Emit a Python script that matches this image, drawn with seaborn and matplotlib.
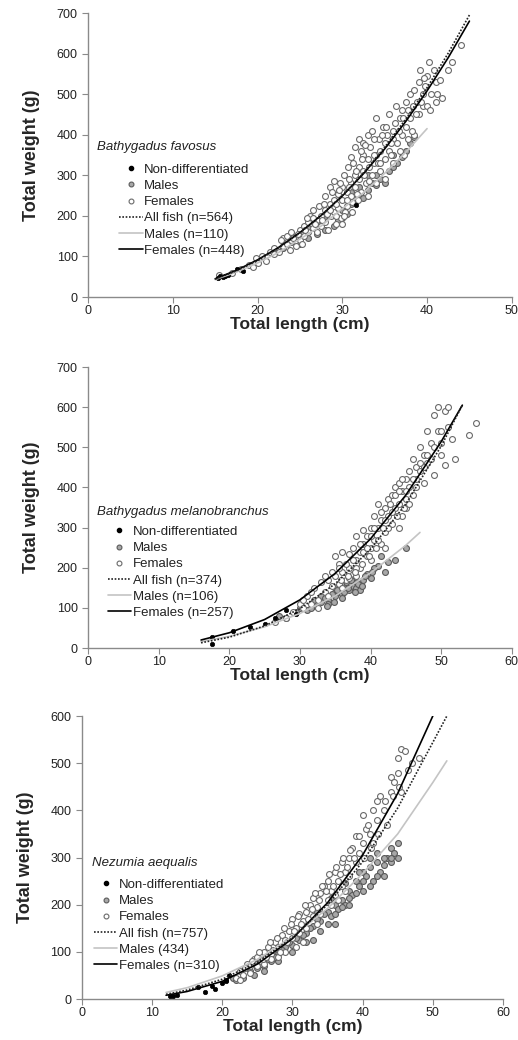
import numpy as np
import pandas as pd
import seaborn as sns
import matplotlib
matplotlib.use("Agg")
import matplotlib.pyplot as plt
from matplotlib.lines import Line2D

sns.set_style("ticks")
plt.rcParams['font.family'] = ['Liberation Sans', 'DejaVu Sans']

# ---------------- Bathygadus favosus ----------------
fav_nd_len = [15.3, 15.6, 15.9, 16.2, 16.5, 17.6, 18.3, 31.6]
fav_nd_wt = [48, 52, 50, 53, 55, 68, 64, 226]
fav_m_len = [25, 26, 27, 28, 29, 29.5, 30, 30.5, 31, 31.5, 32, 32.5, 33, 33.5, 34, 34.5, 35, 35.5,
             36, 36.5, 37, 37.5, 38, 38.5, 33, 32, 30, 28, 27, 26, 24, 23, 31, 34, 36]
fav_m_wt = [130, 145, 155, 165, 175, 190, 195, 205, 230, 240, 250, 245, 265, 280, 275, 290, 280, 310,
            320, 330, 345, 360, 380, 395, 300, 270, 215, 200, 180, 170, 135, 120, 260, 300, 350]
fav_f_len = [15.5, 17, 18, 19, 19.5, 19.8, 20, 20.5, 21, 21.5, 22, 22, 22.5, 23, 23, 23.5, 23.5, 24, 24,
             24.5, 24.5, 25, 25, 25.5, 25.5, 26, 26, 26.2, 26.5, 26.5, 27, 27, 27.2, 27.5, 27.5, 28, 28,
             28, 28.3, 28.5, 28.5, 28.7, 29, 29, 29, 29.3, 29.5, 29.5, 29.8, 30, 30, 30, 30.2, 30.5, 30.5,
             30.7, 31, 31, 31, 31.2, 31.5, 31.5, 31.5, 31.8, 32, 32, 32, 32.2, 32.5, 32.5, 32.5, 32.8, 33,
             33, 33, 33.3, 33.5, 33.5, 33.8, 34, 34, 34, 34.3, 34.5, 34.5, 34.8, 35, 35, 35, 35.3, 35.5,
             35.5, 36, 36, 36, 36.3, 36.5, 36.8, 37, 37, 37.3, 37.5, 37.5, 38, 38, 38.3, 38.5, 38.5, 38.8,
             39, 39, 39.2, 39.5, 39.5, 39.8, 40, 40, 40.2, 40.5, 40.8, 41, 41, 41.5, 43, 44,
             22.8, 23.8, 24.2, 25.2, 25.8, 26.8, 27.8, 28.2, 28.8, 29.2, 29.7, 30.3, 30.8, 31.3, 31.7,
             32.3, 32.7, 33.2, 33.7, 34.2, 34.7, 35.2, 35.7, 36.2, 36.7, 37.2, 37.8, 38.2, 38.7, 39.3,
             39.6, 40.3, 41.2, 41.8, 42.5, 37.8, 33.8, 32.2, 30.8, 29.6, 28.6, 27.6, 26.6, 25.6, 24.8,
             30.2, 31.2, 33.2, 34.5, 35.8, 36.8, 29.3, 30.6, 31.6, 32.6]
fav_f_wt = [55, 60, 70, 80, 75, 95, 85, 100, 90, 110, 105, 120, 110, 125, 145, 130, 150, 140, 160,
            125, 150, 165, 140, 175, 150, 185, 160, 200, 170, 215, 190, 160, 225, 200, 175, 215, 185,
            250, 165, 230, 270, 200, 240, 210, 285, 180, 255, 220, 195, 270, 240, 180, 300, 260, 225,
            320, 280, 250, 345, 210, 300, 270, 370, 240, 320, 290, 390, 260, 350, 310, 380, 280, 340,
            400, 250, 370, 300, 410, 330, 350, 440, 280, 390, 360, 310, 420, 380, 340, 290, 400, 360,
            450, 330, 410, 390, 470, 380, 440, 460, 400, 350, 480, 420, 500, 440, 470, 400, 510, 480,
            530, 450, 560, 500, 470, 520, 545, 470, 580, 500, 560, 480, 530, 535, 580, 620,
            140, 115, 145, 130, 195, 180, 230, 205, 260, 230, 280, 210, 290, 330, 255,
            340, 375, 320, 350, 330, 400, 420, 380, 430, 410, 440, 390, 410, 450, 480,
            540, 460, 500, 490, 560, 460, 390, 360, 270, 265, 215, 190, 195, 165, 155,
            200, 235, 285, 330, 350, 360, 200, 240, 310, 300]
fav_all_len = [15, 17.5, 20, 22.5, 25, 27.5, 30, 32.5, 35, 37.5, 40, 42.5, 45]
fav_all_wt = [44, 64.5, 90, 121, 158, 201, 250, 306, 369, 439, 516, 601, 695]
fav_mfit_len = [15, 17.5, 20, 22.5, 25, 27.5, 30, 32.5, 35, 37.5, 40]
fav_mfit_wt = [43, 61.5, 84, 110, 143, 175, 218, 257, 305, 357, 415]
fav_ffit_len = [15, 17.5, 20, 22.5, 25, 27.5, 30, 32.5, 35, 37.5, 40, 42.5, 45]
fav_ffit_wt = [45, 65.8, 91.6, 122.5, 159, 201, 249, 304, 365, 433, 508, 590, 680]

# ---------------- Bathygadus melanobranchus ----------------
mel_nd_len = [17.5, 17.5, 20.5, 23, 25, 26.5, 28, 29.5]
mel_nd_wt = [28, 10, 42, 52, 60, 75, 95, 85]
mel_m_len = [27, 28, 30, 31, 32, 33, 34, 35, 35.5, 36, 36.5, 37, 37.5, 38, 38.5, 39, 40, 41, 42, 42.5,
             43.5, 45, 34, 36, 37, 38, 35, 33, 32, 39.5, 40.5, 41.5, 37.5, 36.5,
             33.5, 34.5, 35.2, 35.8, 36.2, 36.8, 37.2, 37.8, 38.2, 38.8, 34.8, 33.8, 31.5, 29.5, 39.2, 40.2]
mel_m_wt = [80, 75, 100, 95, 105, 115, 120, 130, 140, 135, 150, 145, 155, 150, 145, 170, 175, 205, 190,
            215, 220, 250, 110, 125, 160, 165, 150, 130, 120, 185, 200, 230, 175, 165,
            125, 135, 145, 160, 140, 150, 170, 140, 160, 155, 115, 105, 100, 90, 180, 190]
mel_f_len = [26.5, 28, 29, 30, 30.5, 31, 31.5, 32, 32.5, 33, 33.5, 34, 34.5, 35, 35, 35.5, 35.5, 36, 36,
             36.5, 37, 37, 37.5, 37.5, 38, 38, 38.5, 38.5, 39, 39, 39.5, 39.5, 40, 40, 40.5, 40.5, 41, 41,
             41.5, 41.5, 42, 42, 42.5, 42.5, 43, 43, 43.5, 43.5, 44, 44, 44.5, 44.5, 45, 45, 45.5, 45.5,
             46, 46, 46.5, 46.5, 47, 47, 47.5, 47.5, 48, 48, 48.5, 49, 49, 49.5, 49.5, 50, 50, 50.5, 50.5,
             51, 51, 51.5, 52, 54, 55, 44, 45, 42, 40, 38, 36, 34,
             33.5, 34.5, 35.5, 36.5, 37, 37.5, 38, 38.5, 39, 39.5, 40, 40.5, 41, 41.5, 42, 42.5, 43,
             43.5, 44, 44.5, 45, 45.5, 46, 46.5, 47, 47.5, 48, 48.5, 49, 50, 44.8, 43.8, 42.8, 41.8,
             40.8, 39.8, 38.8, 37.8, 36.8, 35.8, 31.5, 32.5, 30.5]
mel_f_wt = [65, 75, 90, 110, 100, 130, 110, 150, 120, 165, 140, 170, 155, 230, 180, 210, 160, 190, 240,
            170, 235, 200, 250, 185, 280, 220, 240, 200, 260, 295, 230, 280, 300, 250, 330, 270, 360, 300,
            320, 260, 350, 290, 330, 370, 380, 310, 350, 400, 410, 360, 390, 330, 420, 370, 440, 400,
            470, 380, 450, 420, 500, 440, 480, 410, 540, 460, 510, 430, 580, 540, 600, 510, 480, 455, 590,
            600, 550, 520, 470, 530, 560, 300, 350, 250, 220, 180, 150, 130,
            180, 190, 200, 210, 175, 220, 200, 260, 240, 250, 280, 300, 270, 340, 320, 300, 340,
            380, 390, 420, 390, 360, 420, 400, 460, 450, 480, 470, 500, 540, 350, 330, 360, 300,
            250, 230, 210, 190, 180, 170, 140, 100, 120]
mel_all_len = [16, 20, 25, 30, 35, 40, 45, 50, 53]
mel_all_wt = [13, 27, 55, 98, 160, 246, 359, 503, 605]
mel_mfit_len = [16, 20, 25, 30, 35, 40, 45, 47]
mel_mfit_wt = [16, 29, 53, 86, 130, 187, 256, 288]
mel_ffit_len = [16, 20, 25, 30, 35, 40, 45, 50, 53]
mel_ffit_wt = [20, 38, 71, 120, 186, 272, 381, 514, 605]

# ---------------- Nezumia aequalis ----------------
nez_nd_len = [12.5, 13, 13.5, 16.5, 17.5, 18.5, 19, 20, 20.5, 21, 20.5]
nez_nd_wt = [6, 6, 8, 25, 15, 28, 22, 35, 38, 50, 40]
nez_m_len = [21.5, 22, 23, 24, 25, 26, 27, 28, 29, 30, 31, 32, 33, 34, 35, 35.5, 36, 36.5, 37, 37.5,
             38, 38.5, 39, 39.5, 40, 40.5, 41, 41.5, 42, 42.5, 43, 43.5, 44, 44.5, 45, 45, 44, 43, 30,
             32, 34, 36, 38, 40, 28, 26, 33,
             24.5, 25.5, 26.5, 27.5, 28.5, 29.5, 30.5, 31.5, 32.5, 33.5, 34.5, 35, 36, 37, 38, 39, 40,
             41, 42, 43, 44, 42, 41, 39.5, 37.5, 35.5, 33.5, 31.5]
nez_m_wt = [45, 40, 45, 60, 65, 70, 80, 95, 110, 115, 125, 140, 155, 165, 185, 175, 200, 190, 210, 200,
            230, 220, 250, 240, 270, 260, 280, 250, 290, 270, 285, 300, 320, 310, 330, 300, 290, 260, 100,
            120, 145, 160, 200, 230, 80, 60, 125,
            50, 75, 85, 90, 105, 120, 130, 135, 150, 170, 180, 160, 180, 195, 215, 225, 250,
            240, 260, 300, 300, 310, 300, 270, 245, 215, 185, 160]
nez_f_len = [22, 22.5, 23, 23.5, 24, 24, 24.5, 25, 25, 25.5, 26, 26, 26.5, 27, 27, 27.5, 28, 28, 28.5,
             29, 29, 29.5, 30, 30, 30.5, 31, 31, 31.5, 32, 32, 32.5, 33, 33, 33.5, 34, 34, 34.5, 35, 35,
             35.5, 36, 36, 36.5, 37, 37, 37.5, 38, 38, 38.5, 39, 39, 39.5, 40, 40, 40.5, 41, 41.5, 41.5,
             42, 42, 42.5, 43, 43.5, 44, 44, 44.5, 45, 45, 45.5, 46, 46.5, 47, 48, 45.5,
             22.5, 23.2, 24.2, 25.2, 25.8, 26.2, 26.8, 27.2, 27.8, 28.2, 28.8, 29.2, 29.8, 30.2, 30.8,
             31.2, 31.8, 32.2, 32.8, 33.2, 33.8, 34.2, 34.8, 35.2, 35.8, 36.2, 36.8, 37.2, 37.8, 38.2,
             38.8, 39.5, 40.2, 40.8, 41.2, 42.2, 43.2, 44.3, 45.2, 31.5, 30.5, 33.5, 35.5, 37.5, 36.5]
nez_f_wt = [45, 60, 50, 75, 70, 55, 85, 90, 70, 80, 100, 75, 110, 95, 85, 120, 110, 90, 135, 125, 100,
            145, 170, 130, 150, 180, 140, 165, 185, 150, 200, 175, 215, 195, 225, 180, 240, 210, 250, 230,
            270, 220, 250, 290, 240, 270, 300, 260, 320, 345, 290, 310, 390, 330, 360, 350, 400, 330, 420,
            380, 430, 400, 370, 440, 470, 460, 510, 480, 530, 525, 485, 500, 510, 440,
            40, 65, 80, 100, 85, 90, 120, 105, 130, 100, 150, 120, 160, 145, 175,
            160, 200, 170, 190, 225, 210, 240, 230, 265, 240, 280, 265, 300, 280, 315,
            300, 345, 300, 370, 320, 350, 420, 430, 450, 120, 110, 160, 200, 230, 210]
nez_all_len = [12, 15, 20, 25, 30, 35, 40, 45, 50, 52]
nez_all_wt = [10, 19, 42, 78, 130, 200, 291, 405, 544, 600]
nez_mfit_len = [12, 15, 20, 25, 30, 35, 40, 45, 50, 52]
nez_mfit_wt = [14, 24, 49, 84, 132, 192, 266, 350, 459, 505]
nez_ffit_len = [12, 15, 20, 25, 30, 35, 40, 45, 50]
nez_ffit_wt = [8, 16, 37.5, 74, 128, 204, 305, 436, 600]

panels = [
    dict(name="Bathygadus favosus", nd=(fav_nd_len, fav_nd_wt), m=(fav_m_len, fav_m_wt),
         f=(fav_f_len, fav_f_wt), all=(fav_all_len, fav_all_wt), mfit=(fav_mfit_len, fav_mfit_wt),
         ffit=(fav_ffit_len, fav_ffit_wt),
         labels=["All fish (n=564)", "Males (n=110)", "Females (n=448)"],
         xlim=(0, 50), ylim=(0, 700), yticks=range(0, 701, 100),
         rect=[0.170, 0.7144, 0.818, 0.2731], txt=(0.021, 0.528), leg=(0.073, 0.47)),
    dict(name="Bathygadus melanobranchus", nd=(mel_nd_len, mel_nd_wt), m=(mel_m_len, mel_m_wt),
         f=(mel_f_len, mel_f_wt), all=(mel_all_len, mel_all_wt), mfit=(mel_mfit_len, mel_mfit_wt),
         ffit=(mel_ffit_len, mel_ffit_wt),
         labels=["All fish (n=374)", "Males (n=106)", "Females (n=257)"],
         xlim=(0, 60), ylim=(0, 700), yticks=range(0, 701, 100),
         rect=[0.170, 0.3769, 0.818, 0.2702], txt=(0.021, 0.484), leg=(0.046, 0.435)),
    dict(name="Nezumia aequalis", nd=(nez_nd_len, nez_nd_wt), m=(nez_m_len, nez_m_wt),
         f=(nez_f_len, nez_f_wt), all=(nez_all_len, nez_all_wt), mfit=(nez_mfit_len, nez_mfit_wt),
         ffit=(nez_ffit_len, nez_ffit_wt),
         labels=["All fish (n=757)", "Males (434)", "Females (n=310)"],
         xlim=(0, 60), ylim=(0, 600), yticks=range(0, 601, 100),
         rect=[0.158, 0.0394, 0.813, 0.2721], txt=(0.024, 0.48), leg=(0.028, 0.425)),
]

fig = plt.figure(figsize=(5.18, 10.4), dpi=100)
axis_col = "#8a8a8a"

for p in panels:
    ax = fig.add_axes(p["rect"])
    sns.scatterplot(x=p["nd"][0], y=p["nd"][1], ax=ax, s=10, color="black", edgecolor="black",
                    linewidth=0.5, zorder=3)
    sns.scatterplot(x=p["m"][0], y=p["m"][1], ax=ax, s=18, color="#a8a8a8", edgecolor="#5a5a5a",
                    linewidth=0.8, zorder=2)
    sns.scatterplot(x=p["f"][0], y=p["f"][1], ax=ax, s=18, color="white", edgecolor="#6a6a6a",
                    linewidth=0.8, zorder=2)
    sns.lineplot(x=p["mfit"][0], y=p["mfit"][1], ax=ax, color="#c4c4c4", linewidth=1.2,
                 sort=False, zorder=4)
    sns.lineplot(x=p["ffit"][0], y=p["ffit"][1], ax=ax, color="black", linewidth=1.2,
                 sort=False, zorder=5)
    sns.lineplot(x=p["all"][0], y=p["all"][1], ax=ax, color="#222222", linewidth=1.2,
                 linestyle=(0, (1, 1)), sort=False, zorder=6)

    ax.set_xlim(*p["xlim"])
    ax.set_ylim(*p["ylim"])
    ax.set_yticks(list(p["yticks"]))
    ax.set_xticks(np.arange(p["xlim"][0], p["xlim"][1] + 1, 10))
    sns.despine(ax=ax)
    for s in ["left", "bottom"]:
        ax.spines[s].set_color(axis_col)
        ax.spines[s].set_linewidth(1.0)
    ax.tick_params(axis="both", colors=axis_col, labelcolor="#222222", labelsize=9, length=4)
    ax.tick_params(axis="x", pad=2)
    ax.set_xlabel("Total length (cm)", fontsize=12.5, fontweight="bold", labelpad=0)
    ax.set_ylabel("Total weight (g)", fontsize=13, fontweight="bold", labelpad=12)

    ax.text(p["txt"][0], p["txt"][1], p["name"], transform=ax.transAxes, fontsize=9.5,
            style="italic", va="center", ha="left", color="#222222")

    handles = [
        Line2D([], [], linestyle="none", marker="o", markersize=3, color="black"),
        Line2D([], [], linestyle="none", marker="o", markersize=3.5, markerfacecolor="#a8a8a8",
               markeredgecolor="#5a5a5a", markeredgewidth=0.8),
        Line2D([], [], linestyle="none", marker="o", markersize=3.5, markerfacecolor="white",
               markeredgecolor="#6a6a6a", markeredgewidth=0.8),
        Line2D([], [], color="#222222", linewidth=1.2, linestyle=(0, (1, 1))),
        Line2D([], [], color="#c4c4c4", linewidth=1.2),
        Line2D([], [], color="black", linewidth=1.2),
    ]
    labels = ["Non-differentiated", "Males", "Females"] + p["labels"]
    ax.legend(handles, labels, loc="upper left", bbox_to_anchor=p["leg"], frameon=False,
              fontsize=9.5, handlelength=1.8, handletextpad=0.1, labelspacing=0.3,
              borderpad=0, borderaxespad=0, labelcolor="#222222")

fig.savefig("out.png", dpi=100)
